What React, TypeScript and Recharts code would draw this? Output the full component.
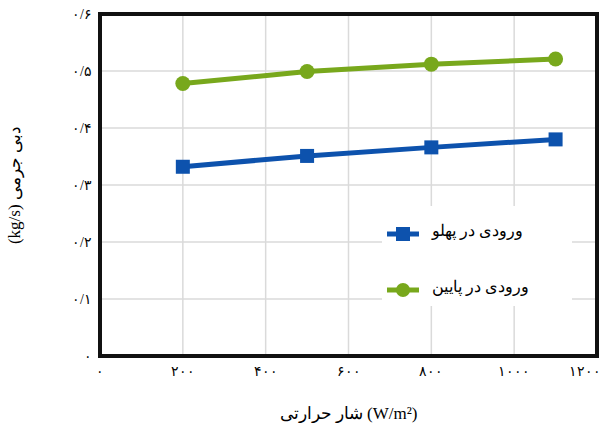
import { LineChart, Line, XAxis, YAxis, CartesianGrid, ReferenceArea, Label } from 'recharts';

const heatFlux = [200, 500, 800, 1100];
const sideInlet = [0.332, 0.351, 0.366, 0.38];
const bottomInlet = [0.478, 0.499, 0.512, 0.521];
const xTicks = [0, 200, 400, 600, 800, 1000, 1200];
const yTicks = [0, 0.1, 0.2, 0.3, 0.4, 0.5, 0.6];
const sideName = 'ورودی در پهلو';
const bottomName = 'ورودی در پایین';
const xTitle = 'شار حرارتی (W/m²)';
const yTitle = 'دبی جرمی (kg/s)';

const BLUE = '#0d52ad';
const GREEN = '#78a81c';
const FONT = "'Liberation Serif', 'DejaVu Serif', serif";

const fa = (s: string) => s.replace(/[0-9]/g, (d) => '۰۱۲۳۴۵۶۷۸۹'[Number(d)]);
const fmtY = (v: number) => (v === 0 ? '۰' : fa(v.toFixed(1)).replace('.', '/'));

const chartData = heatFlux.map((x, i) => ({ x, side: sideInlet[i], bottom: bottomInlet[i] }));

function SquareDot(props: any) {
  const { cx, cy } = props;
  if (cx == null || cy == null) return null;
  return <rect x={cx - 7} y={cy - 7} width={14} height={14} fill={BLUE} />;
}

function RoundDot(props: any) {
  const { cx, cy } = props;
  if (cx == null || cy == null) return null;
  return <circle cx={cx} cy={cy} r={7.5} fill={GREEN} />;
}

function XTick(props: any) {
  const { x, y, payload } = props;
  const last = payload.value === 1200;
  return (
    <text x={last ? x + 4 : x} y={y + 12} textAnchor={last ? 'end' : 'middle'} fontSize={14} fill="#000" fontFamily={FONT} letterSpacing={2}>
      {fa(String(payload.value))}
    </text>
  );
}

function YTick(props: any) {
  const { x, y, payload } = props;
  return (
    <text x={x} y={y + 5} textAnchor="end" fontSize={14} fill="#000" fontFamily={FONT}>
      {fmtY(payload.value)}
    </text>
  );
}

function LegendBox() {
  const rows = [
    { name: sideName, color: BLUE, square: true },
    { name: bottomName, color: GREEN, square: false }
  ];
  return (
    <div style={{ position: 'absolute', left: 382, top: 206, width: 190, height: 100, background: '#fff', fontFamily: FONT }}>
      {rows.map((r, i) => (
        <div key={i} style={{ position: 'absolute', left: 0, top: i === 0 ? 20 : 76, display: 'flex', alignItems: 'center', height: 16 }}>
          <svg width={34} height={16} style={{ marginLeft: 4 }}>
            <line x1={1} y1={8} x2={33} y2={8} stroke={r.color} strokeWidth={5} />
            {r.square ? <rect x={10} y={1} width={14} height={14} fill={r.color} /> : <circle cx={17} cy={8} r={7} fill={r.color} />}
          </svg>
          <span dir="rtl" style={{ marginLeft: 12, fontSize: 16, color: '#000', whiteSpace: 'nowrap', position: 'relative', top: -4 }}>{r.name}</span>
        </div>
      ))}
    </div>
  );
}

export default function App() {
  return (
    <div style={{ position: 'absolute', left: 0, top: 0, width: 601, height: 423, background: '#fff' }}>
      <LineChart width={601} height={423} data={chartData} margin={{ top: 14, right: 4, left: 0, bottom: 0 }}>
        <CartesianGrid stroke="#dadada" strokeWidth={1.5} />
        <XAxis
          dataKey="x"
          type="number"
          domain={[0, 1200]}
          ticks={xTicks}
          tick={<XTick />}
          tickLine={false}
          axisLine={false}
          height={67}
          interval={0}
        >
          <Label value={xTitle} position="insideBottom" offset={4} style={{ fontSize: 17, fill: '#000', fontFamily: FONT }} />
        </XAxis>
        <YAxis
          type="number"
          domain={[0, 0.6]}
          ticks={yTicks}
          tick={<YTick />}
          tickLine={false}
          axisLine={false}
          width={100}
          interval={0}
        >
          <Label value={yTitle} angle={-90} position="insideLeft" offset={14} style={{ fontSize: 17, fill: '#000', fontFamily: FONT, textAnchor: 'middle', direction: 'rtl' }} />
        </YAxis>
        <ReferenceArea x1={0} x2={1200} y1={0} y2={0.6} fill="none" stroke="#111" strokeWidth={4} ifOverflow="visible" />
        <Line dataKey="side" name={sideName} stroke={BLUE} strokeWidth={5} dot={<SquareDot />} activeDot={false} isAnimationActive={false} />
        <Line dataKey="bottom" name={bottomName} stroke={GREEN} strokeWidth={5} dot={<RoundDot />} activeDot={false} isAnimationActive={false} />
      </LineChart>
      <LegendBox />
    </div>
  );
}
